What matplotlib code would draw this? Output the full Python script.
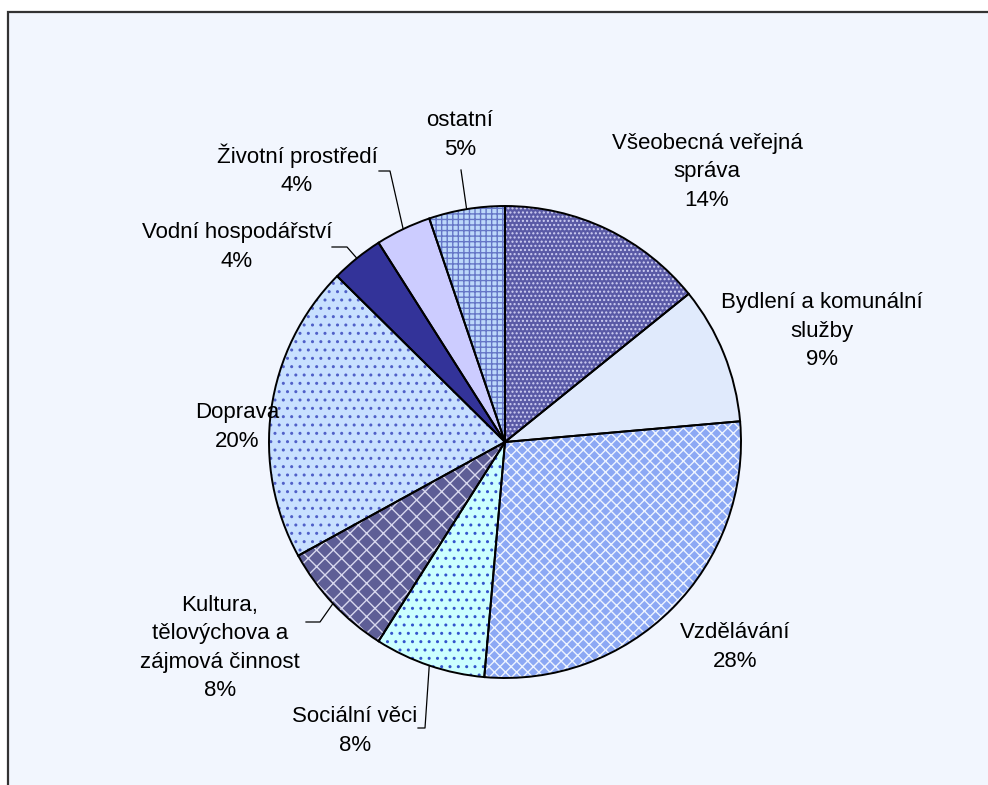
import matplotlib
matplotlib.use("Agg")
import matplotlib.pyplot as plt
from matplotlib.patches import Rectangle, Wedge
import numpy as np

# data (shares of spending, %)
labels = ["Všeobecná veřejná\nspráva", "Bydlení a komunální\nslužby", "Vzdělávání",
          "Sociální věci", "Kultura,\ntělovýchova a\nzájmová činnost", "Doprava",
          "Vodní hospodářství", "Životní prostředí", "ostatní"]
values = [14.2, 9.4, 27.8, 7.6, 8.0, 20.4, 3.6, 3.8, 5.2]

# styles
face_colors = ["#5A5AA6", "#E0EAFC", "#8CA8F4", "#CCFFFF", "#5E5E96",
               "#C8E0FF", "#333399", "#CCCCFF", "#BCD8FA"]
hatches = ["....", None, "xxx", "..", "xx", "..", None, None, "+++"]
hatch_colors = ["#D0D0F4", None, "#EEF4FF", "#3355CC", "#D8D8EE",
                "#5060C8", None, None, "#6576C6"]

# label centres (px) and leader lines (elbow points, px)
label_pos = [(707, 172), (822, 331), (735, 647), (355, 731), (220, 648),
             (237, 427), (237, 247), (297, 170), (460, 135)]
leaders = {3: [(425, 728), (418, 728)], 4: [(320, 622), (306, 622)],
           6: [(347, 247), (332, 247)], 7: [(390, 171), (379, 171)],
           8: [(461, 170)]}

center = (505, 442)
radius = 236

plt.rcParams["font.family"] = ["Liberation Sans", "DejaVu Sans"]
plt.rcParams["hatch.linewidth"] = 1.0

fig = plt.figure(figsize=(9.88, 7.85), dpi=100)
fig.patch.set_facecolor("white")
ax = fig.add_axes([0, 0, 1, 1])

# chart area with frame on the top and left edges
ax.add_patch(Rectangle((8, 12), 1000, 800, facecolor="#F2F6FE",
                       edgecolor="#333333", lw=1.6, zorder=0))

# y axis runs downward, so startangle=-90 + counterclock gives clockwise from top
wedges, _ = ax.pie(values, colors=face_colors, startangle=-90, counterclock=True,
                   center=center, radius=radius, frame=True,
                   wedgeprops=dict(edgecolor="none", lw=0))

for i, w in enumerate(wedges):
    if hatches[i]:
        ax.add_patch(Wedge(center, radius, w.theta1, w.theta2, facecolor="none",
                           edgecolor=hatch_colors[i], hatch=hatches[i], lw=0, zorder=3))
    ax.add_patch(Wedge(center, radius, w.theta1, w.theta2, facecolor="none",
                       edgecolor="black", lw=1.4, zorder=4))

    # labels
    x, y = label_pos[i]
    ax.text(x, y, labels[i] + "\n" + f"{round(values[i])}%", ha="center", va="center",
            fontsize=16, linespacing=1.45, color="black", zorder=5)

    if i in leaders:
        mid = np.deg2rad((w.theta1 + w.theta2) / 2)
        pts = [(center[0] + radius * np.cos(mid), center[1] + radius * np.sin(mid))]
        pts += leaders[i]
        xs, ys = zip(*pts)
        ax.plot(xs, ys, color="black", lw=0.9, zorder=5)

ax.set_xlim(0, 988)
ax.set_ylim(785, 0)
ax.axis("off")

fig.savefig("out.png", dpi=100)
